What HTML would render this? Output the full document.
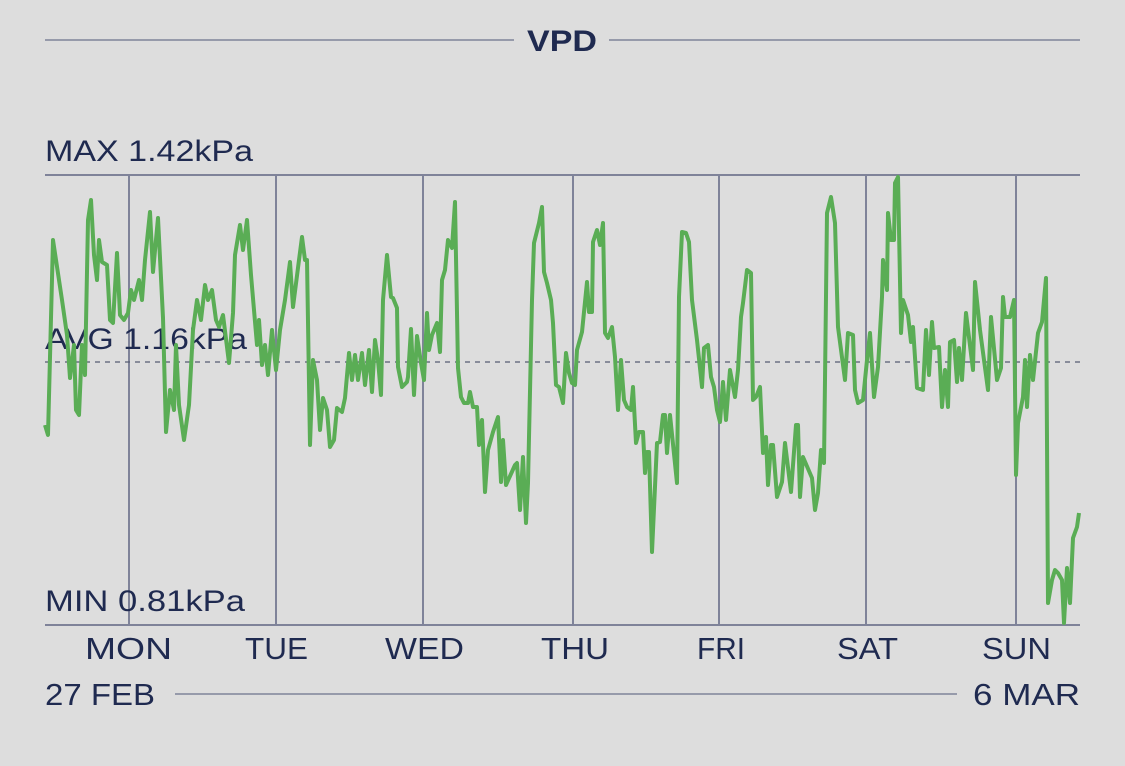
<!DOCTYPE html>
<html><head><meta charset="utf-8"><style>
html,body{margin:0;padding:0;background:#dddddd;}
svg{display:block}
text{font-family:"Liberation Sans",sans-serif;fill:#1f2a50}
</style></head><body>
<svg width="1125" height="766" viewBox="0 0 1125 766">
<rect width="1125" height="766" fill="#dddddd"/>
<line x1="45" y1="40" x2="514" y2="40" stroke="#7f8399" stroke-width="1.5"/>
<line x1="609" y1="40" x2="1080" y2="40" stroke="#7f8399" stroke-width="1.5"/>
<text x="527" y="51" font-size="30" font-weight="bold" textLength="70" lengthAdjust="spacingAndGlyphs">VPD</text>
<text x="45" y="161" font-size="30" textLength="208" lengthAdjust="spacingAndGlyphs">MAX 1.42kPa</text>
<line x1="45" y1="175" x2="1080" y2="175" stroke="#7f8399" stroke-width="2"/>
<line x1="45" y1="625" x2="1080" y2="625" stroke="#7f8399" stroke-width="2"/>
<g stroke="#7f8399" stroke-width="2">
<line x1="129" y1="175" x2="129" y2="625"/><line x1="276" y1="175" x2="276" y2="625"/>
<line x1="423" y1="175" x2="423" y2="625"/><line x1="573" y1="175" x2="573" y2="625"/>
<line x1="719" y1="175" x2="719" y2="625"/><line x1="866" y1="175" x2="866" y2="625"/>
<line x1="1016" y1="175" x2="1016" y2="625"/></g>
<text x="45" y="349" font-size="30" textLength="202" lengthAdjust="spacingAndGlyphs">AVG 1.16kPa</text>
<text x="45" y="611" font-size="30" textLength="200" lengthAdjust="spacingAndGlyphs">MIN 0.81kPa</text>
<line x1="45" y1="362" x2="1080" y2="362" stroke="#555b72" stroke-width="1.3" stroke-dasharray="5,5"/>
<polyline fill="none" stroke="#5aad55" stroke-width="4" stroke-linejoin="round" points="45,425 48,435 53,240 62,300 67,335 70,378 74,345 76,410 79,415 82,345 85,375 88,220 91,200 94,255 97,280 99,240 102,262 107,265 110,320 113,323 117,253 120,315 124,320 128,313 131,290 134,300 139,280 142,300 145,260 150,212 153,272 158,218 163,318 166,432 170,390 174,410 176,345 179,405 184,440 189,405 193,330 197,300 201,320 205,285 208,300 212,290 216,320 219,327 223,315 229,363 233,313 235,255 240,225 243,250 247,220 251,275 257,345 259,320 262,365 265,345 268,375 272,330 276,370 280,330 285,300 290,262 293,307 299,260 302,237 305,260 307,260 310,445 313,360 317,380 320,430 323,398 327,410 330,447 334,440 337,408 342,412 345,398 349,353 352,380 355,355 358,380 362,353 365,385 369,350 372,392 375,340 378,360 381,395 383,300 387,255 391,297 393,298 397,308 398,367 402,387 407,382 408,377 411,329 414,395 417,336 421,363 424,380 427,313 429,350 432,335 437,323 440,352 442,280 445,270 448,240 452,248 455,202 458,368 461,397 464,403 468,403 470,392 473,407 477,407 479,445 482,420 485,492 488,450 493,432 498,417 501,482 503,440 506,485 515,465 517,463 520,510 523,457 526,523 528,483 532,300 534,243 539,223 542,207 544,272 547,283 551,300 553,323 556,385 559,387 563,403 566,353 569,373 572,383 575,385 577,350 582,332 587,282 589,312 592,312 593,242 597,230 600,245 603,223 605,333 608,338 612,327 615,357 618,410 621,360 624,400 627,407 631,410 633,387 636,443 639,432 643,432 645,473 647,452 649,452 652,552 657,443 660,442 663,415 665,415 667,453 670,415 677,483 679,297 682,232 686,233 689,242 692,300 697,340 702,387 704,348 708,345 711,377 714,387 717,410 720,422 723,382 726,420 730,370 735,397 738,370 741,317 743,303 747,270 751,273 753,400 756,397 760,387 763,453 766,437 768,485 771,445 773,445 777,497 782,482 785,443 791,492 796,425 798,425 800,497 803,457 812,478 815,510 818,493 821,450 824,463 827,213 831,197 835,223 838,327 845,380 848,333 853,335 855,390 858,403 863,400 867,360 870,333 874,397 878,367 882,297 883,260 887,290 888,213 891,240 894,240 895,183 898,177 901,333 903,300 908,315 911,342 913,327 917,388 923,390 926,330 929,375 932,322 934,348 939,347 942,407 945,370 948,407 950,342 954,340 957,382 959,348 962,380 966,313 973,370 975,282 980,330 988,390 991,317 997,380 1001,368 1003,297 1005,317 1010,317 1014,300 1016,475 1018,423 1023,397 1025,360 1027,407 1030,355 1033,380 1038,333 1042,322 1046,278 1048,603 1052,580 1055,570 1058,573 1062,580 1064,623 1067,568 1070,603 1073,538 1077,527 1079,513"/>
<g font-size="31" lengthAdjust="spacingAndGlyphs">
<text x="85" y="659" textLength="87" lengthAdjust="spacingAndGlyphs">MON</text>
<text x="245" y="659" textLength="63" lengthAdjust="spacingAndGlyphs">TUE</text>
<text x="385" y="659" textLength="79" lengthAdjust="spacingAndGlyphs">WED</text>
<text x="541" y="659" textLength="68" lengthAdjust="spacingAndGlyphs">THU</text>
<text x="697" y="659" textLength="48" lengthAdjust="spacingAndGlyphs">FRI</text>
<text x="837" y="659" textLength="61" lengthAdjust="spacingAndGlyphs">SAT</text>
<text x="982" y="659" textLength="69" lengthAdjust="spacingAndGlyphs">SUN</text>
</g>
<text x="45" y="705" font-size="31" textLength="110" lengthAdjust="spacingAndGlyphs">27 FEB</text>
<text x="973" y="705" font-size="31" textLength="107" lengthAdjust="spacingAndGlyphs">6 MAR</text>
<line x1="175" y1="694" x2="957" y2="694" stroke="#7f8399" stroke-width="1.5"/>
</svg>
</body></html>
